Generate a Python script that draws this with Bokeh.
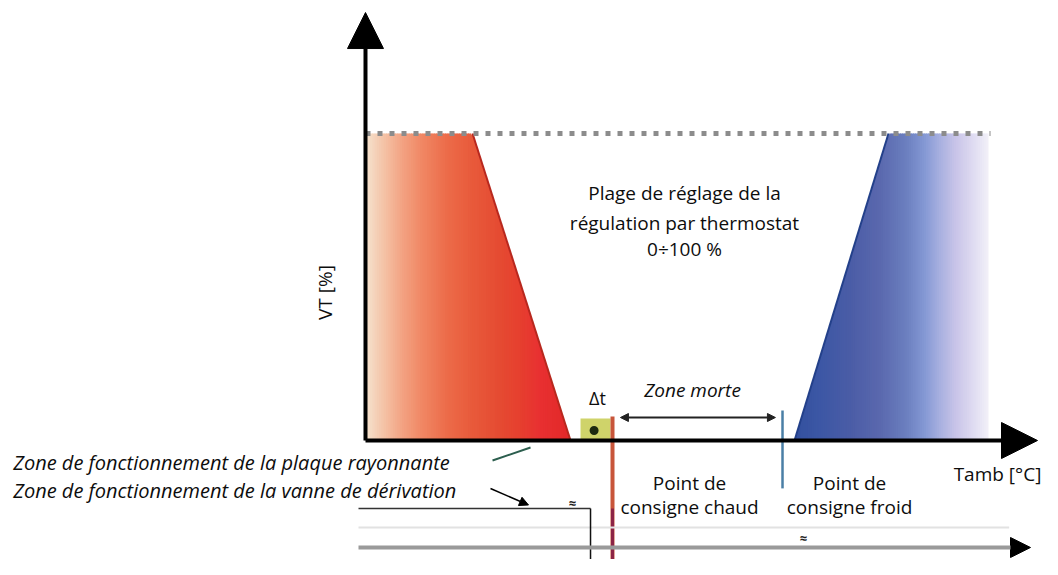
import numpy as np
from bokeh.plotting import figure
from bokeh.models import Range1d, Arrow, NormalHead
from bokeh.core.properties import value
from bokeh.embed import file_html
from bokeh.resources import INLINE

# ---------------- data (x = Tamb [°C], conceptual ; y = VT [%]) ----------------
T_MIN, T_MAX = -1.60, 35.176           # visible range of the diagram
VT_MIN, VT_MAX_VIEW = -38.76, 143.32

T_ORIGIN = 11.282        # origin of the Tamb axis
T_AXIS_TIP = 35.0        # tip of the Tamb arrow
VT_AXIS_TIP = 139.4      # tip of the VT arrow
VT_FULL = 100.0          # 100 % level (dashed line)
T_DASH_END = 33.341

T_HOT = 20.0             # point de consigne chaud
T_COLD = 26.0            # point de consigne froid

# heating zone (red trapezoid): left, top-right corner, bottom-right corner
red_x = [T_ORIGIN, 15.059, 18.518]
# cooling zone (blue trapezoid): bottom-left, top-left corner, right
blue_x = [26.424, 29.741, 33.271]

# Δt band
dt_x = [18.871, 19.929]
dt_y = [0.0, 7.17]

# dead band arrow
zm_x = [20.28, 25.75]
zm_y = 7.49

# lower construction lines
low_line_y = -22.15
low_line_x = [11.035, 19.224]
bottom_arrow_y = -34.85
bottom_arrow_x = [11.035, 34.753]
bottom_y = -44.0

# texts
main_lines = ["Plage de réglage de la", "régulation par thermostat", "0÷100 %"]
main_x = 22.541
main_y = [80.46, 71.0, 62.54]
hot_lines = ["Point de", "consigne chaud"]
cold_lines = ["Point de", "consigne froid"]
hot_x, cold_x = 22.718, 28.365
setpoint_y = [-13.68, -21.82]
left_lines = ["Zone de fonctionnement de la plaque rayonnante",
              "Zone de fonctionnement de la vanne de dérivation"]
left_x = -1.15
left_y = [-7.17, -16.29]

# ---------------- figure ----------------
p = figure(width=1042, height=559, output_backend="svg", toolbar_location=None,
           x_range=Range1d(T_MIN, T_MAX), y_range=Range1d(VT_MIN, VT_MAX_VIEW),
           x_axis_location=None, y_axis_location=None, min_border=0,
           outline_line_color=None, background_fill_color="white")
p.grid.visible = False

def lerp_color(stops, t):
    pos = [s[0] for s in stops]
    cols = [tuple(int(s[1][i:i + 2], 16) for i in (1, 3, 5)) for s in stops]
    t = min(max(t, pos[0]), pos[-1])
    for i in range(len(pos) - 1):
        if pos[i] <= t <= pos[i + 1]:
            f = (t - pos[i]) / (pos[i + 1] - pos[i]) if pos[i + 1] > pos[i] else 0
            c = [round(cols[i][k] + f * (cols[i + 1][k] - cols[i][k])) for k in range(3)]
            return "#%02x%02x%02x" % tuple(c)
    return stops[-1][1]

# colour stops (fraction of zone width)
red_stops = [(0.0, "#f6e4d0"), (0.08, "#f4c6aa"), (0.18, "#f3a282"), (0.28, "#f08663"),
             (0.40, "#ec6b49"), (0.52, "#e85a3b"), (0.65, "#e54b32"), (0.75, "#e6402f"),
             (0.85, "#e83031"), (1.0, "#e22828")]
blue_stops = [(0.0, "#33509e"), (0.13, "#3c57a5"), (0.28, "#4a5ca6"), (0.44, "#5a68ae"),
              (0.57, "#6a7ebe"), (0.67, "#8498d4"), (0.75, "#a8b0e0"), (0.83, "#c8c4e8"),
              (0.91, "#dcd8f0"), (1.0, "#f2f0f9")]

def red_top(x):
    if x <= red_x[1]:
        return VT_FULL
    return max(0.0, VT_FULL * (red_x[2] - x) / (red_x[2] - red_x[1]))

def blue_top(x):
    if x >= blue_x[1]:
        return VT_FULL
    return max(0.0, VT_FULL * (x - blue_x[0]) / (blue_x[1] - blue_x[0]))

def strips(x0, x1, topf, stops, n):
    xs, ys, cs = [], [], []
    edges = np.linspace(x0, x1, n + 1)
    for i in range(n):
        a, b = edges[i], edges[i + 1]
        bb = min(b + 0.03, x1)
        xs.append([a, bb, bb, a])
        ys.append([0, 0, topf(bb), topf(a)])
        cs.append(lerp_color(stops, ((a + b) / 2 - x0) / (x1 - x0)))
    return xs, ys, cs

xs, ys, cs = strips(red_x[0], red_x[2], red_top, red_stops, 90)
p.patches(xs, ys, fill_color=cs, line_color=None)
xs, ys, cs = strips(blue_x[0], blue_x[2], blue_top, blue_stops, 90)
p.patches(xs, ys, fill_color=cs, line_color=None)

# dark edges of the slopes
p.line([red_x[1], red_x[2]], [VT_FULL, 0], line_color="#b8281e", line_width=2)
p.line([blue_x[0], blue_x[1]], [0, VT_FULL], line_color="#23408a", line_width=2)

# Δt band
p.quad(left=dt_x[0], right=dt_x[1], bottom=dt_y[0], top=dt_y[1],
       fill_color="#cfd36a", line_color=None)
p.scatter([19.35], [3.26], size=9, marker="circle", fill_color="#1d2a10", line_color=None)

# dashed 100 % line
p.line([T_ORIGIN, T_DASH_END], [VT_FULL, VT_FULL], line_color="#8c8c8c",
       line_width=5, line_dash="5 7")

# set-point vertical lines
p.segment(x0=[T_HOT], y0=[zm_y + 0.3], x1=[T_HOT], y1=[bottom_y],
          line_color="#c8553a", line_width=4)
p.segment(x0=[T_HOT], y0=[low_line_y], x1=[T_HOT], y1=[bottom_y],
          line_color="#8c2446", line_width=3)
p.segment(x0=[T_COLD], y0=[9.77], x1=[T_COLD], y1=[-15.6],
          line_color="#4a7fa6", line_width=2.5)

# lower construction lines
p.line([11.035, 34.0], [-28.3, -28.3], line_color="#e2e2e2", line_width=2)
p.line(low_line_x, [low_line_y, low_line_y], line_color="#333333", line_width=1.5)
p.segment(x0=[low_line_x[1]], y0=[low_line_y], x1=[low_line_x[1]], y1=[bottom_y],
          line_color="#111111", line_width=1.5)
p.add_layout(Arrow(x_start=bottom_arrow_x[0], y_start=bottom_arrow_y,
                   x_end=bottom_arrow_x[1], y_end=bottom_arrow_y,
                   line_color="#9a9a9a", line_width=4,
                   end=NormalHead(size=20, fill_color="black", line_color="black")))

# leader lines from the left labels
p.line([15.765, 17.106], [-6.51, -2.28], line_color="#2c5e4e", line_width=2)
p.add_layout(Arrow(x_start=15.694, y_start=-15.64, x_end=17.035, y_end=-21.0,
                   line_color="black", line_width=1.5,
                   end=NormalHead(size=9, fill_color="black", line_color="black")))

# dead-band double arrow
p.add_layout(Arrow(x_start=zm_x[0], y_start=zm_y, x_end=zm_x[1], y_end=zm_y,
                   line_color="#222222", line_width=2,
                   start=NormalHead(size=8, fill_color="#222222", line_color="#222222"),
                   end=NormalHead(size=8, fill_color="#222222", line_color="#222222")))

# main axes with arrow heads
p.add_layout(Arrow(x_start=T_ORIGIN, y_start=0, x_end=T_ORIGIN, y_end=VT_AXIS_TIP,
                   line_color="black", line_width=4,
                   end=NormalHead(size=36, fill_color="black", line_color="black")))
p.add_layout(Arrow(x_start=T_ORIGIN, y_start=0, x_end=T_AXIS_TIP, y_end=0,
                   line_color="black", line_width=4,
                   end=NormalHead(size=36, fill_color="black", line_color="black")))

# ---------------- texts ----------------
font = value("Open Sans")
tc = "#0d0d0d"
p.text(x=[main_x] * 3, y=main_y, text=main_lines, text_font=font,
       text_font_size="19px", text_align="center", text_baseline="middle", text_color=tc)
p.text(x=[hot_x] * 2, y=setpoint_y, text=hot_lines, text_font=font,
       text_font_size="19px", text_align="center", text_baseline="middle", text_color=tc)
p.text(x=[cold_x] * 2, y=setpoint_y, text=cold_lines, text_font=font,
       text_font_size="19px", text_align="center", text_baseline="middle", text_color=tc)
p.text(x=[22.824], y=[16.29], text=["Zone morte"], text_font=font, text_font_style="italic",
       text_font_size="19px", text_align="center", text_baseline="middle", text_color=tc)
p.text(x=[19.471], y=[14.0], text=["Δt"], text_font=font,
       text_font_size="18px", text_align="center", text_baseline="middle", text_color=tc)
p.text(x=[33.588], y=[-11.0], text=["Tamb [°C]"], text_font=font,
       text_font_size="19px", text_align="center", text_baseline="middle", text_color=tc)
p.text(x=[9.85], y=[48.2], text=["VT [%]"], text_font=font, angle=np.pi / 2,
       text_font_size="19px", text_align="center", text_baseline="middle", text_color=tc)
p.text(x=[left_x] * 2, y=left_y, text=left_lines, text_font=font, text_font_style="italic",
       text_font_size="20px", text_align="left", text_baseline="middle", text_color=tc)
p.text(x=[18.588, 26.741], y=[-20.2, -31.6], text=["≈", "≈"], text_font=font,
       text_font_size="13px", text_font_style="bold", text_align="center",
       text_baseline="middle", text_color="#222222")

open("out.html", "w").write(file_html(p, INLINE))
